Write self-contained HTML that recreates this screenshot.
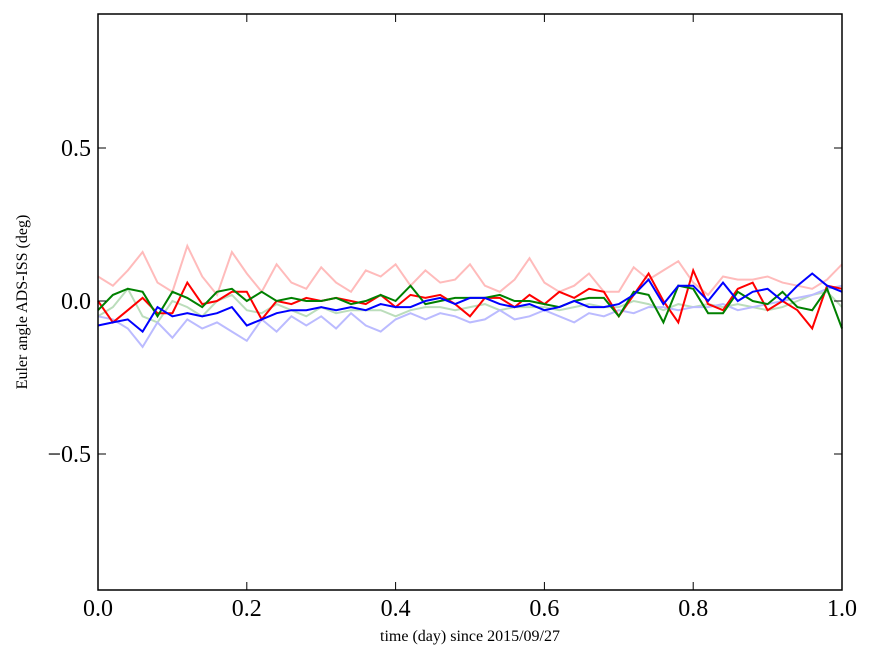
<!DOCTYPE html>
<html><head><meta charset="utf-8"><style>
body{margin:0;background:#fff;}
svg{display:block;font-family:"Liberation Serif",serif;}
</style></head><body>
<svg id="chart" width="875" height="662">
<rect x="0" y="0" width="875" height="662" fill="#fff"/>
<g id="series"></g>
<rect x="98" y="14" width="744" height="576" fill="none" stroke="#000" stroke-width="1.5"/>
<g id="ticks"></g>
<text x="470" y="641" font-size="16" text-anchor="middle">time (day) since 2015/09/27</text>
<text x="27" y="302" font-size="16" text-anchor="middle" transform="rotate(-90 27 302)">Euler angle ADS-ISS (deg)</text>
</svg>
<script>
const times=[0,.02,.04,.06,.08,.10,.12,.14,.16,.18,.20,.22,.24,.26,.28,.30,.32,.34,.36,.38,.40,.42,.44,.46,.48,.50,.52,.54,.56,.58,.60,.62,.64,.66,.68,.70,.72,.74,.76,.78,.80,.82,.84,.86,.88,.90,.92,.94,.96,.98,1.0];
const rollRef=[0.08,0.05,0.1,0.16,0.06,0.03,0.18,0.08,0.02,0.16,0.09,0.03,0.12,0.06,0.04,0.11,0.06,0.03,0.1,0.08,0.12,0.05,0.1,0.06,0.07,0.12,0.05,0.03,0.07,0.14,0.06,0.03,0.05,0.09,0.03,0.03,0.11,0.07,0.1,0.13,0.06,0.02,0.08,0.07,0.07,0.08,0.06,0.05,0.04,0.07,0.12];
const pitchRef=[-0.05,-0.02,0.04,-0.05,-0.07,0.0,-0.02,-0.05,0.0,0.02,-0.03,-0.04,-0.01,-0.03,-0.05,-0.02,-0.04,-0.03,-0.03,-0.03,-0.05,-0.03,-0.02,-0.02,-0.03,-0.02,-0.01,-0.03,-0.02,-0.02,-0.02,-0.03,-0.02,-0.01,-0.02,-0.02,0.0,-0.01,-0.03,-0.01,-0.02,-0.01,-0.02,-0.01,-0.02,-0.03,-0.02,0.0,0.02,0.03,-0.02];
const yawRef=[-0.05,-0.06,-0.09,-0.15,-0.07,-0.12,-0.06,-0.09,-0.07,-0.1,-0.13,-0.06,-0.1,-0.05,-0.08,-0.05,-0.09,-0.04,-0.08,-0.1,-0.06,-0.04,-0.06,-0.04,-0.05,-0.07,-0.06,-0.03,-0.06,-0.05,-0.03,-0.05,-0.07,-0.04,-0.05,-0.03,-0.04,-0.02,-0.02,-0.03,-0.02,-0.02,-0.01,-0.03,-0.02,-0.01,0.0,0.01,0.02,0.04,0.05];
const roll=[0.0,-0.07,-0.03,0.01,-0.04,-0.04,0.06,-0.01,0.0,0.03,0.03,-0.06,0.0,-0.01,0.01,0.0,0.01,0.0,-0.01,0.02,-0.02,0.02,0.01,0.02,-0.01,-0.05,0.01,0.01,-0.02,0.02,-0.01,0.03,0.01,0.04,0.03,-0.05,0.02,0.09,0.0,-0.07,0.1,-0.01,-0.03,0.04,0.06,-0.03,0.0,-0.03,-0.09,0.05,0.04];
const pitch=[-0.03,0.02,0.04,0.03,-0.05,0.03,0.01,-0.02,0.03,0.04,0.0,0.03,0.0,0.01,0.0,0.0,0.01,-0.01,0.0,0.02,0.0,0.05,-0.01,0.0,0.01,0.01,0.01,0.02,0.0,0.0,-0.01,-0.02,0.0,0.01,0.01,-0.05,0.03,0.02,-0.07,0.05,0.04,-0.04,-0.04,0.03,0.0,-0.01,0.03,-0.02,-0.03,0.04,-0.09];
const yaw=[-0.08,-0.07,-0.06,-0.1,-0.02,-0.05,-0.04,-0.05,-0.04,-0.02,-0.08,-0.06,-0.04,-0.03,-0.03,-0.02,-0.03,-0.02,-0.03,-0.01,-0.02,-0.02,0.0,0.01,-0.01,0.01,0.01,-0.01,-0.02,-0.01,-0.03,-0.02,0.0,-0.02,-0.02,-0.01,0.02,0.07,-0.01,0.05,0.05,0.0,0.06,0.0,0.03,0.04,0.0,0.05,0.09,0.05,0.03];
const xTicks=[0,0.2,0.4,0.6,0.8,1.0];
const xTickLabels=["0.0","0.2","0.4","0.6","0.8","1.0"];
const yTicks=[-0.5,0,0.5];
const yTickLabels=["\u22120.5","0.0","0.5"];

const X=v=>98+v*744;
const Y=v=>301-v*306;
const NS="http://www.w3.org/2000/svg";
const sg=document.getElementById('series');
const seriesList=[[rollRef,'#ffbbbb','roll-reference-line'],[pitchRef,'#bbddbb','pitch-reference-line'],[yawRef,'#bbbbff','yaw-reference-line'],[roll,'#ff0000','roll-line'],[pitch,'#008000','pitch-line'],[yaw,'#0000ff','yaw-line']];
for(const [vals,col,name] of seriesList){
  const p=document.createElementNS(NS,'polyline');
  p.setAttribute('points',vals.map((v,i)=>X(times[i]).toFixed(1)+','+Y(v).toFixed(1)).join(' '));
  p.setAttribute('fill','none');p.setAttribute('stroke',col);p.setAttribute('stroke-width','2');
  
  
  sg.appendChild(p);
}
const tg=document.getElementById('ticks');
function line(x1,y1,x2,y2){const l=document.createElementNS(NS,'line');l.setAttribute('x1',x1);l.setAttribute('y1',y1);l.setAttribute('x2',x2);l.setAttribute('y2',y2);l.setAttribute('stroke','#000');l.setAttribute('stroke-width','1');


tg.appendChild(l);}
function text(x,y,s,anchor){const t=document.createElementNS(NS,'text');t.setAttribute('x',x);t.setAttribute('y',y);t.setAttribute('font-size','24');t.setAttribute('text-anchor',anchor);t.textContent=s;


tg.appendChild(t);}
xTicks.forEach((v,i)=>{const x=X(v);line(x,590,x,582);line(x,14,x,22);text(x,616,xTickLabels[i],'middle');});
yTicks.forEach((v,i)=>{const y=Y(v);line(98,y,106,y);line(842,y,834,y);text(91,y+8,yTickLabels[i],'end');});
</script>
</body></html>
